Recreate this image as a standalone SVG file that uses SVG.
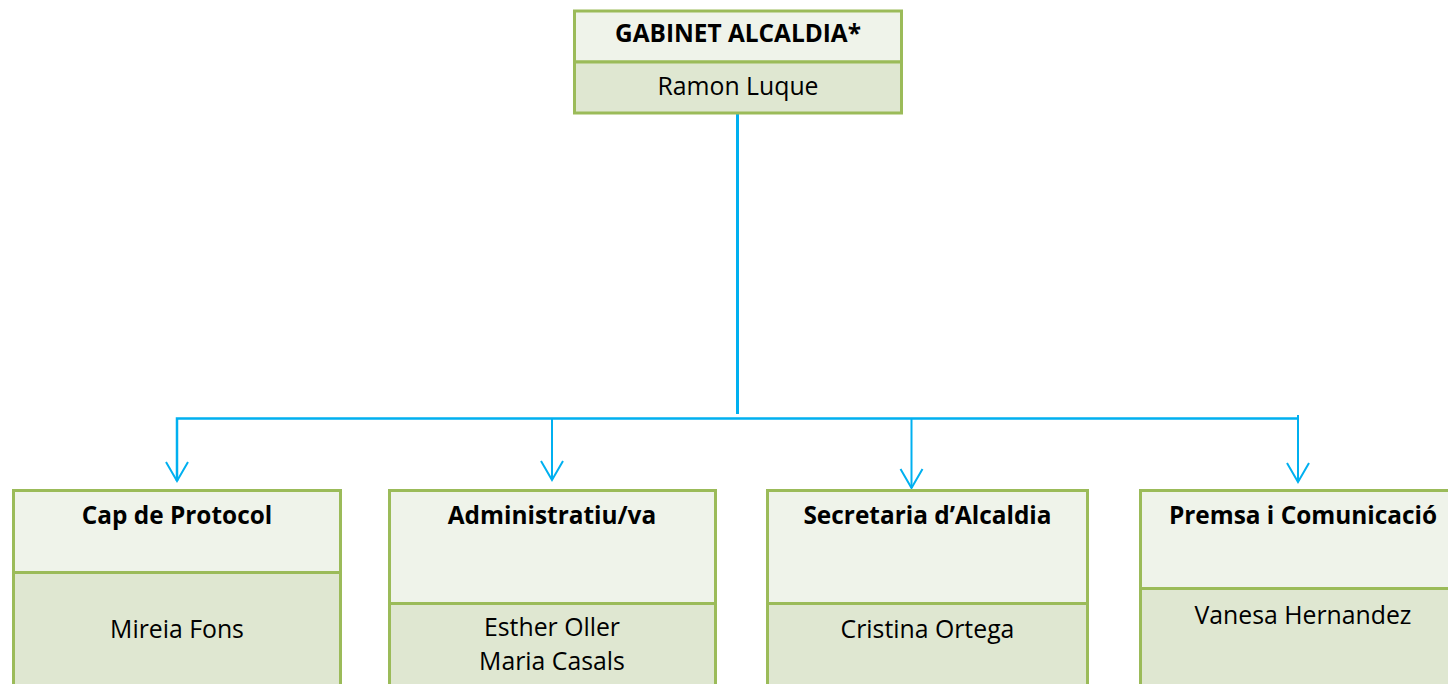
<svg xmlns="http://www.w3.org/2000/svg" width="1448" height="684" viewBox="0 0 1448 684">
<style>
.hd{fill:#EFF3EA;stroke:#9BBB59;stroke-width:3}
.bd{fill:#DFE7D1;stroke:#9BBB59;stroke-width:3}
text{font-family:"Open Sans","Liberation Sans",sans-serif;fill:#000;text-anchor:middle}
.t{font-weight:bold;font-size:24.4px}
.n{font-size:24.8px}
.c{fill:none;stroke:#00B0F0}
</style>
<defs>
<marker id="ah" markerUnits="userSpaceOnUse" orient="auto" markerWidth="24" markerHeight="26" refX="20" refY="12" viewBox="0 0 24 26" overflow="visible">
<path d="M1,1 L20,12 L1,23" fill="none" stroke="#00B0F0" stroke-width="2"/>
</marker>
</defs>
<rect width="1448" height="684" fill="#fff"/>
<g id="connectors">
<path class="c" d="M737.5,113 V414" stroke-width="3"/>
<path class="c" d="M177,481 V418.5 H1298" stroke-width="2.5"/>
<path class="c" d="M177,419 V481" stroke-width="2" marker-end="url(#ah)"/>
<path class="c" d="M552,419 V480" stroke-width="2" marker-end="url(#ah)"/>
<path class="c" d="M911.5,419 V488" stroke-width="2" marker-end="url(#ah)"/>
<path class="c" d="M1298,415 V482" stroke-width="2" marker-end="url(#ah)"/>
</g>
<g id="gabinet">
<rect class="hd" x="574.5" y="11" width="327" height="51"/>
<rect class="bd" x="574.5" y="62" width="327" height="51"/>
<text class="t" x="738" y="42">GABINET ALCALDIA*</text>
<text class="n" x="738" y="95">Ramon Luque</text>
</g>
<g id="protocol">
<rect class="hd" x="13.5" y="490.5" width="327" height="82"/>
<rect class="bd" x="13.5" y="572.5" width="327" height="130"/>
<text class="t" x="177" y="524">Cap de Protocol</text>
<text class="n" x="177" y="638">Mireia Fons</text>
</g>
<g id="administratiu">
<rect class="hd" x="389.5" y="490.5" width="326" height="113"/>
<rect class="bd" x="389.5" y="603.5" width="326" height="100"/>
<text class="t" x="552" y="524">Administratiu/va</text>
<text class="n" x="552" y="636">Esther Oller</text>
<text class="n" x="552" y="670">Maria Casals</text>
</g>
<g id="secretaria">
<rect class="hd" x="767.5" y="490.5" width="320" height="113"/>
<rect class="bd" x="767.5" y="603.5" width="320" height="100"/>
<text class="t" x="927.5" y="524">Secretaria d’Alcaldia</text>
<text class="n" x="927.5" y="638">Cristina Ortega</text>
</g>
<g id="premsa">
<rect class="hd" x="1140.5" y="490.5" width="326" height="98"/>
<rect class="bd" x="1140.5" y="588.5" width="326" height="115"/>
<text class="t" x="1303" y="524">Premsa i Comunicació</text>
<text class="n" x="1303" y="624">Vanesa Hernandez</text>
</g>
</svg>
